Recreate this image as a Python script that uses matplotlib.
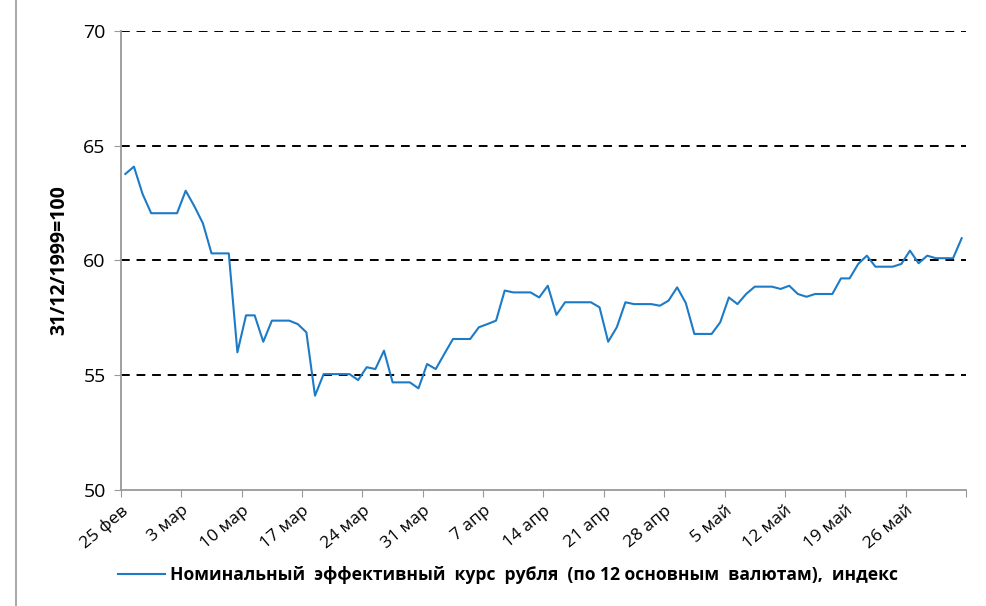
import numpy as np
import matplotlib
matplotlib.use("Agg")
import matplotlib.pyplot as plt
from matplotlib.lines import Line2D

# daily values, 25 feb .. 2 jun
values = [63.77, 64.09, 62.90, 62.06, 62.06, 62.06, 62.06, 63.04, 62.37, 61.62,
          60.31, 60.31, 60.31, 56.00, 57.61, 57.61, 56.46, 57.38, 57.38, 57.38,
          57.23, 56.87, 54.11, 55.05, 55.05, 55.05, 55.05, 54.79, 55.35, 55.27,
          56.07, 54.69, 54.69, 54.69, 54.43, 55.49, 55.27, 55.93, 56.58, 56.58,
          56.58, 57.09, 57.23, 57.38, 58.69, 58.61, 58.61, 58.61, 58.39, 58.90,
          57.63, 58.18, 58.18, 58.18, 58.18, 57.96, 56.46, 57.09, 58.18, 58.10,
          58.10, 58.10, 58.03, 58.25, 58.83, 58.15, 56.80, 56.80, 56.80, 57.31,
          58.39, 58.10, 58.54, 58.86, 58.86, 58.86, 58.76, 58.90, 58.54, 58.42,
          58.54, 58.54, 58.54, 59.22, 59.22, 59.85, 60.21, 59.73, 59.73, 59.73,
          59.85, 60.43, 59.88, 60.21, 60.10, 60.10, 60.10, 60.97]
tick_labels = ['25 фев', '3 мар', '10 мар', '17 мар', '24 мар', '31 мар', '7 апр',
               '14 апр', '21 апр', '28 апр', '5 май', '12 май', '19 май', '26 май', '']
series_name = 'Номинальный  эффективный  курс  рубля  (по 12 основным  валютам),  индекс'
ylabel = '31/12/1999=100'

plt.rcParams['font.family'] = ['Open Sans', 'DejaVu Sans']

fig = plt.figure(figsize=(9.87, 6.06), dpi=100)
ax = fig.add_axes([121/987, 1-490/606, (966-121)/987, (490-31)/606])

days = np.arange(len(values)) + 0.5
ax.plot(days, values, color='#1c7bc7', lw=1.5)

ax.set_xlim(0, 98)
ax.set_ylim(50, 70)
ax.set_yticks([50, 55, 60, 65, 70])
for y in [55, 60, 65, 70]:
    ax.axhline(y, color='black', lw=1.4, ls=(0, (4.5, 3.5)), zorder=0)

ax.set_xticks(np.arange(0, 99, 7))
ax.set_xticklabels(tick_labels, rotation=40, ha='right', rotation_mode='anchor', fontsize=12.5)
ax.tick_params(axis='x', length=5, color='#999999', pad=4)
ax.tick_params(axis='y', length=5, color='#999999', labelsize=14, pad=6)

for s in ['top', 'right']:
    ax.spines[s].set_visible(False)
for s in ['left', 'bottom']:
    ax.spines[s].set_color('#999999')
    ax.spines[s].set_linewidth(1.3)

ax.set_ylabel(ylabel, fontsize=14, fontweight='bold', labelpad=10)

# legend under the plot
fig.legend([Line2D([], [], color='#1c7bc7', lw=1.5)], [series_name],
           loc='center left', bbox_to_anchor=(102/987, 1-575/606), frameon=False,
           handlelength=2.7, handletextpad=0.3, prop={'size': 12.6, 'weight': 'bold'})

# chart border fragment on the left
fig.add_artist(Line2D([16/987, 16/987], [0, 1], color='#999999', lw=1.2))

fig.savefig('out.png', dpi=100)
